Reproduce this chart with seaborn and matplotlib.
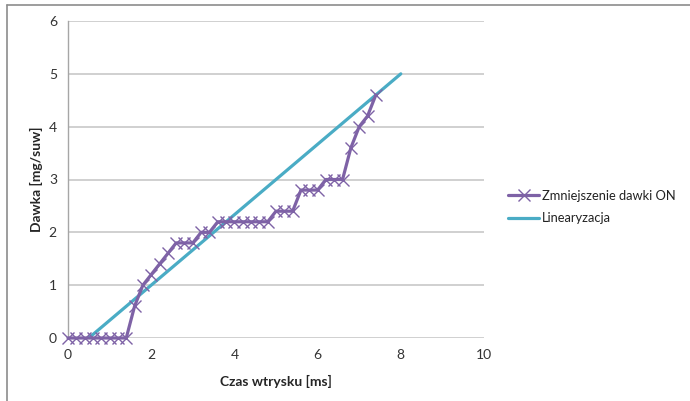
import matplotlib
matplotlib.use("Agg")
import matplotlib.pyplot as plt
from matplotlib.lines import Line2D
import pandas as pd
import seaborn as sns

# Measured injection-time vs dose series (reduced dose ON)
czas = [0.0, 0.2, 0.4, 0.6, 0.8, 1.0, 1.2, 1.4, 1.6, 1.8, 2.0, 2.2, 2.4, 2.6,
        2.8, 3.0, 3.2, 3.4, 3.6, 3.8, 4.0, 4.2, 4.4, 4.6, 4.8, 5.0, 5.2, 5.4,
        5.6, 5.8, 6.0, 6.2, 6.4, 6.6, 6.8, 7.0, 7.2, 7.4]
dawka = [0.0, 0.0, 0.0, 0.0, 0.0, 0.0, 0.0, 0.0, 0.6, 1.0, 1.2, 1.4, 1.6, 1.8,
         1.8, 1.8, 2.0, 2.0, 2.2, 2.2, 2.2, 2.2, 2.2, 2.2, 2.2, 2.4, 2.4, 2.4,
         2.8, 2.8, 2.8, 3.0, 3.0, 3.0, 3.6, 4.0, 4.2, 4.6]

# Linearization endpoints
lin_czas = [0.5, 8.0]
lin_dawka = [0.0, 5.0]

seria_nazwa = "Zmniejszenie dawki ON"
lin_nazwa = "Linearyzacja"

x_ticks = [0, 2, 4, 6, 8, 10]
y_ticks = [0, 1, 2, 3, 4, 5, 6]

purple = "#7E62A6"
teal = "#4AACC5"

sns.set_theme(style="white")
plt.rcParams["font.family"] = ["Lato", "DejaVu Sans"]

W, H = 690, 401
fig = plt.figure(figsize=(W / 100, H / 100), dpi=100)
ax = fig.add_axes([68 / W, (H - 338) / H, (484 - 68) / W, (338 - 21) / H])

df_meas = pd.DataFrame({"czas": czas, "dawka": dawka})
df_lin = pd.DataFrame({"czas": lin_czas, "dawka": lin_dawka})

sns.lineplot(data=df_meas, x="czas", y="dawka", ax=ax, color=purple,
             linewidth=2.3, marker="x", markersize=8, markeredgewidth=1.0,
             markeredgecolor=purple, label=seria_nazwa, zorder=3,
             estimator=None, sort=False, clip_on=False)
sns.lineplot(data=df_lin, x="czas", y="dawka", ax=ax, color=teal,
             linewidth=2.3, label=lin_nazwa, zorder=2,
             estimator=None, sort=False)

ax.set_xlim(0, 10)
ax.set_ylim(0, 6)
ax.set_xticks(x_ticks)
ax.set_yticks(y_ticks)
ax.set_xticklabels([str(t) for t in x_ticks])
ax.set_yticklabels([str(t) for t in y_ticks])
ax.tick_params(axis="both", labelsize=10, colors="#333333", length=0, pad=8)

ax.yaxis.grid(True, color="#C8C8C8", linewidth=1.2)
ax.xaxis.grid(False)
ax.set_axisbelow(True)
for side in ["top", "right", "bottom"]:
    ax.spines[side].set_visible(False)
ax.spines["left"].set_color("#A6A6A6")
ax.spines["left"].set_linewidth(1.0)

ax.set_xlabel("Czas wtrysku [ms]", fontsize=10, fontweight="bold", labelpad=10)
ax.set_ylabel("Dawka [mg/suw]", fontsize=10, fontweight="bold", labelpad=4)

leg = ax.legend(loc="center left", bbox_to_anchor=(508 / W, (H - 207) / H),
                bbox_transform=fig.transFigure, frameon=False, fontsize=9.3,
                handlelength=2.4, handletextpad=0.25, labelspacing=0.85,
                borderpad=0, borderaxespad=0, numpoints=1)
for t in leg.get_texts():
    t.set_color("#222222")

# Chart frame
fig.add_artist(Line2D([7 / W, 1], [(H - 5) / H, (H - 5) / H],
                      transform=fig.transFigure, color="#8C8C8C", linewidth=1.2))
fig.add_artist(Line2D([7 / W, 7 / W], [0, (H - 5) / H],
                      transform=fig.transFigure, color="#8C8C8C", linewidth=1.2))

fig.savefig("out.png", dpi=100, facecolor="white")
